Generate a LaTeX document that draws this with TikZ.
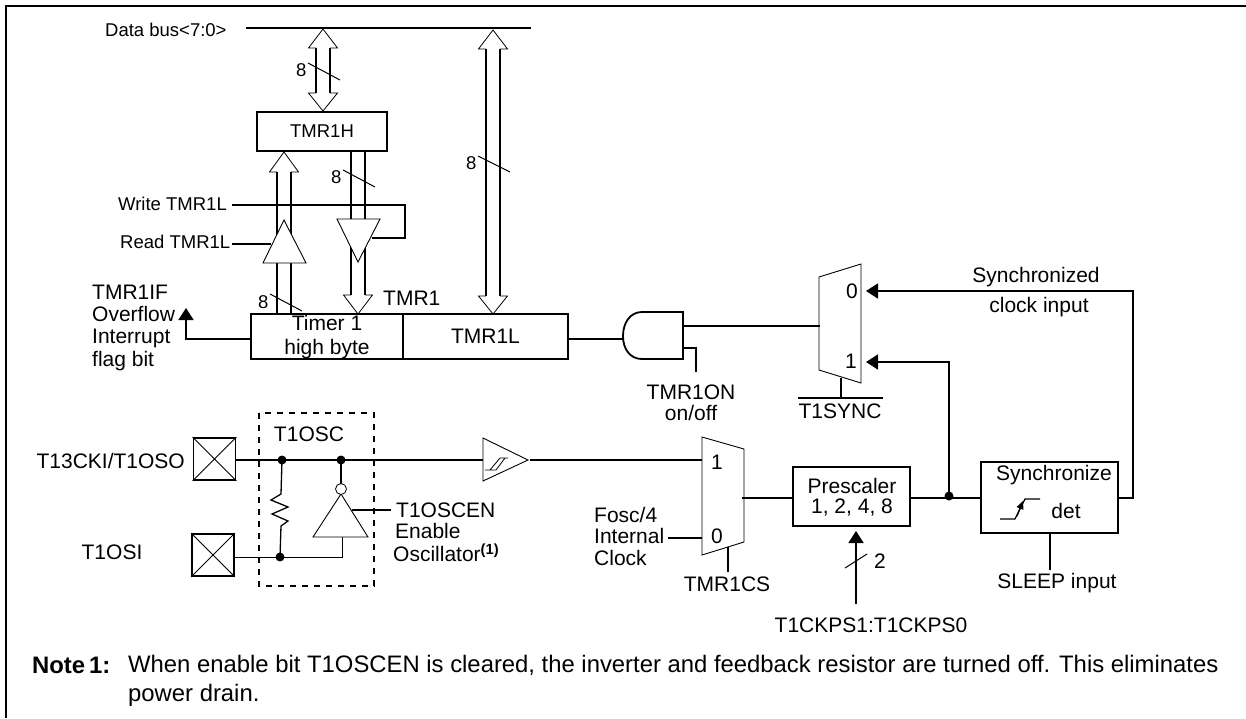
\documentclass[tikz,border=0pt]{standalone}
\usepackage{fontspec}
\setmainfont{Liberation Sans}
\usetikzlibrary{arrows.meta, positioning}

\newcommand{\bushead}[3]{\draw[hairline] (#1-7,#3) -- (#1-14.5,#3) -- (#1,#2) -- (#1+14.5,#3) -- (#1+7,#3);}
\newcommand{\busshaft}[3]{\draw[wire] (#1-7,#2) -- (#1-7,#3) (#1+7,#2) -- (#1+7,#3);}

\begin{document}
\begin{tikzpicture}[
    x=1pt, y=-1pt,
    wire/.style={line width=1.8pt},
    hairline/.style={line width=0.8pt},
    thinwire/.style={line width=1pt},
    block/.style={rectangle, draw, line width=1.8pt, fill=white, inner sep=0pt, font=\fontsize{21}{24}\selectfont},
    lbl/.style={inner sep=0pt, font=\fontsize{21}{24}\selectfont, align=center},
    lblleft/.style={inner sep=0pt, font=\fontsize{21}{24}\selectfont, anchor=west},
    smalllbl/.style={inner sep=0pt, font=\fontsize{18.5}{21}\selectfont},
    note/.style={inner sep=0pt, font=\fontsize{23.85}{27}\selectfont, anchor=west},
    arrow/.style={wire, -{Triangle[length=12pt,width=15pt]}},
    dot/.style={circle, fill, inner sep=0pt, minimum size=9pt},
    pad/.style={rectangle, draw, line width=1.8pt, inner sep=0pt, minimum width=42pt, minimum height=42pt},
    gate/.style={draw, line width=0.9pt, fill=white}
]
    \useasboundingbox (0,0) rectangle (1246,718);
    \draw[wire] (6,718) -- (6,6) -- (1246,6);

    % data bus
    \node[smalllbl, anchor=west] (databus) at (105,30) {Data bus<7:0>};
    \coordinate (busleft) at (246,28);
    \coordinate (busright) at (531,28);
    \draw[wire] (busleft) -- (busright);

    % registers
    \node[block, font=\fontsize{18.5}{21}\selectfont, minimum width=130pt, minimum height=39pt] (tmrh) at (322,131.5) {TMR1H};
    \node[block, minimum width=152pt, minimum height=45pt] (timer) at (327,336.5) {};
    \node[block, minimum width=165pt, minimum height=45pt] (tmrl) at (485.5,336.5) {TMR1L};
    \node[lbl] (timertext) at (327,337.5) {Timer 1\\high byte};
    \node[lblleft] (tmrlabel) at (383,298) {TMR1};

    % bus arrows
    \busshaft{323}{48}{93}
    \bushead{323}{29}{48}
    \bushead{323}{111}{93}
    \busshaft{284}{172}{314}
    \bushead{284}{152}{172}
    \busshaft{358}{151}{295}
    \bushead{358}{314}{295}
    \busshaft{493}{49}{296}
    \bushead{493}{30}{49}
    \bushead{493}{314}{296}

    % width marks
    \draw[thinwire] (308,63) -- (340,80) node[smalllbl, pos=0, left=1pt, yshift=-7pt] (eighta) {8};
    \draw[thinwire] (343,170) -- (375,187) node[smalllbl, pos=0, left=1pt, yshift=-7pt] (eightb) {8};
    \draw[thinwire] (478,156) -- (510,172) node[smalllbl, pos=0, left=1pt, yshift=-7pt] (eightc) {8};
    \draw[thinwire] (270,294) -- (302,311) node[smalllbl, pos=0, left=1pt, yshift=-8pt] (eightd) {8};

    % tri-state drivers
    \coordinate (readedge) at (271,244);
    \coordinate (writeedge) at (372,238);
    \node[smalllbl, anchor=west] (writel) at (118,204) {Write TMR1L};
    \node[smalllbl, anchor=west] (readl) at (120,242) {Read TMR1L};
    \draw[wire] (232,244) -- (readedge);
    \draw[wire] (232,205) -- (405,205) -- (405,238) -- (writeedge);
    \draw[gate] (284,220) -- (306,263) -- (263,263) -- cycle;
    \draw[gate] (337,219) -- (380,219) -- (358,262) -- cycle;

    % overflow flag
    \node[lblleft] (tmrif) at (92,292) {TMR1IF};
    \node[lblleft] (overflow) at (92,314) {Overflow};
    \node[lblleft] (interrupt) at (92,338) {Interrupt};
    \node[lblleft] (flagbit) at (92,361) {flag bit};
    \coordinate (flagtip) at (186,308);
    \draw[arrow] (timer.west |- 0,339) -- (186,339) -- (flagtip);

    % oscillator
    \node[pad] (padso) at (214.5,459) {};
    \node[pad] (padsi) at (213,555) {};
    \draw[hairline] (padso.north west) -- (padso.south east) (padso.south west) -- (padso.north east);
    \draw[hairline] (padsi.north west) -- (padsi.south east) (padsi.south west) -- (padsi.north east);
    \node[lbl, anchor=east] (t13cki) at (185,461) {T13CKI/T1OSO};
    \node[lbl] (t1osi) at (112,552) {T1OSI};
    \draw[line width=1.3pt, dash pattern=on 6pt off 6pt] (259,413) rectangle (374,586);
    \node[lbl] (t1osc) at (309,434) {T1OSC};
    \node[dot] (dota) at (282,460) {};
    \node[dot] (dotb) at (341,460) {};
    \node[dot] (dotc) at (280,557) {};
    \coordinate (bufin) at (483,460);
    \draw[wire] (padso.east |- bufin) -- (bufin);
    \draw[line width=1.3pt] (dota.center) -- (281,494) -- (271,500) -- (288,507) -- (272,514) -- (288,521) -- (281,526) -- (dotc.center);
    \draw[thinwire] (padsi.east |- dotc) -- (342,557) -- (342,537);
    \draw[wire] (dotb.center) -- (341,484);
    \draw[gate] (341,494) -- (368,537) -- (313,537) -- cycle;
    \node[circle, draw, hairline, fill=white, inner sep=0pt, minimum size=11pt] (bubble) at (341,489) {};
    \draw[wire] (352,510) -- (391,510);
    \node[lblleft] (t1oscen) at (396,510) {T1OSCEN};
    \node[lblleft] (enable) at (395,531) {Enable};
    \node[lblleft] (oscillator) at (393,553) {Oscillator\textsuperscript{\textbf{(1)}}};

    % schmitt buffer
    \draw[gate] (483,438) -- (528,460) -- (483,481) -- cycle;
    \draw[hairline] (485,470) -- (490,470) -- (500,458) -- (508,458) (490,470) -- (496,470) -- (505,458);

    % clock mux
    \coordinate (muxain) at (702,460);
    \coordinate (muxbin) at (702,538);
    \draw[gate] (702,437) -- (744,449) -- (744,542) -- (702,555) -- cycle;
    \node[lbl] (muxaone) at (717,462) {1};
    \node[lbl] (muxazero) at (717,536) {0};
    \draw[wire] (530,460) -- (muxain);
    \node[lblleft] (fosc) at (594,515) {Fosc/4};
    \node[lblleft] (internal) at (594,536) {Internal};
    \node[lblleft] (clock) at (594,558) {Clock};
    \draw[wire] (668,538) -- (muxbin);
    \draw[wire] (728,547) -- (728,572);
    \node[lbl] (tmrcs) at (727,584) {TMR1CS};

    % prescaler
    \node[block, minimum width=117pt, minimum height=59pt] (prescaler) at (851.5,496.5) {};
    \node[lbl] (prescalertext) at (852,497) {Prescaler\\[-4pt]1, 2, 4, 8};
    \draw[wire] (742,498) -- (prescaler.west |- 0,498);
    \coordinate (prescalertip) at (856,531);
    \draw[arrow] (856,604) -- (prescalertip);
    \draw[thinwire] (845,568) -- (867,554);
    \node[lbl] (two) at (880,561) {2};
    \node[lbl] (ckps) at (871,625) {T1CKPS1:T1CKPS0};

    % synchronizer
    \node[block, minimum width=137pt, minimum height=71pt] (sync) at (1049.5,497.5) {};
    \node[lbl] (synctext) at (1054,475) {Synchronize};
    \node[lbl] (det) at (1066,511) {det};
    \draw[line width=1.3pt] (1000,519) -- (1015,519) -- (1025,499) -- (1040,499);
    \draw[line width=1.3pt, -{Triangle[length=8pt,width=7pt]}] (1017,516) -- (1023,501);
    \draw[wire] (prescaler.east |- 0,498) -- (sync.west |- 0,498);
    \node[dot] (dotd) at (949,496) {};
    \draw[wire] (1050,533) -- (1050,570);
    \node[lbl] (sleep) at (1057,583) {SLEEP input};

    % output mux and gate
    \draw[gate] (819,277) -- (861,264) -- (861,383) -- (819,370) -- cycle;
    \node[lbl] (muxbzero) at (852,291) {0};
    \node[lbl] (muxbone) at (851,361) {1};
    \coordinate (zerotip) at (866,291);
    \coordinate (onetip) at (866,362);
    \draw[arrow] (sync.east |- 0,498) -- (1133,498) -- (1133,291) -- (zerotip);
    \draw[arrow] (dotd.center) -- (949,362) -- (onetip);
    \node[lbl] (synced) at (1036,277) {Synchronized};
    \node[lbl] (clockin) at (1039,307) {clock input};
    \draw[wire] (841,378) -- (841,398);
    \draw[wire] (798,398) -- (883,398);
    \node[lbl] (t1sync) at (840,411) {T1SYNC};

    \draw[wire] (tmrl.east |- 0,339) -- (623,339);
    \draw[wire, fill=white] (642,312) -- (683,312) -- (683,359) -- (642,359) .. controls (630,359) and (623,349) .. (623,336) .. controls (623,323) and (630,312) .. (642,312) -- cycle;
    \draw[wire] (683,326) -- (820,326);
    \draw[wire] (683,348) -- (696,348) -- (696,372);
    \node[lbl] (tmron) at (691,392) {TMR1ON};
    \node[lbl] (onoff) at (691,413) {on/off};

    % note
    \node[note] (notehead) at (32,665) {\textbf{Note\,1:}};
    \node[note] (notea) at (128,665) {When enable bit T1OSCEN is cleared, the inverter and feedback resistor are turned off. This eliminates};
    \node[note] (noteb) at (128,695) {power drain.};
\end{tikzpicture}
\end{document}
